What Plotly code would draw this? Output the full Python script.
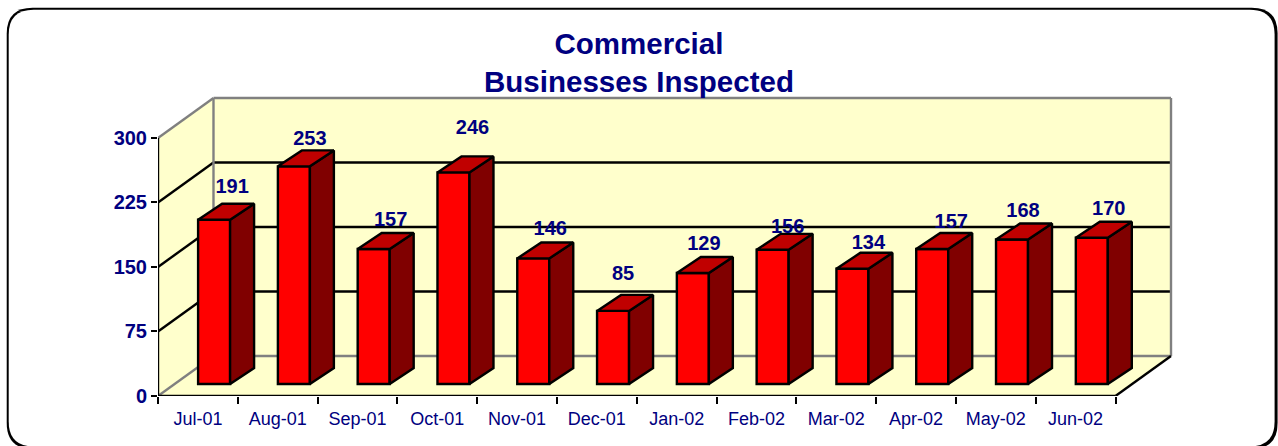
import plotly.graph_objects as go

# ---- data ----
months = ["Jul-01", "Aug-01", "Sep-01", "Oct-01", "Nov-01", "Dec-01",
          "Jan-02", "Feb-02", "Mar-02", "Apr-02", "May-02", "Jun-02"]
inspected = [191, 253, 157, 246, 146, 85, 129, 156, 134, 157, 168, 170]
y_ticks = [0, 75, 150, 225, 300]
title_lines = ["Commercial", "Businesses Inspected"]

# ---- label nudges (px), as placed in the original ----
label_dx = [18, 16, 17, 19, 17, 10, 11, 15, 16, 19, 11, 17]
label_dy = [15.5, 10.5, 12, 27.5, 12, 20, 12, 5.5, 9, 10.5, 11.5, 11.5]

# ---- geometry of the pseudo 3-D box ----
W, H = 1278, 446
X0, Y0 = 158.3, 396.0       # pixel position of the front axes corner
PX_X, PX_Y = 79.8, 258.5 / 300
DEPTH_PX = (55.5, 40.0)     # wall depth
BAR_PX = (32.0, 24.0, 16.0) # bar front width, side dx, side dy
BAR_SHIFT = (16.2, 12.0)    # bar offset into the box
PAD_R, PAD_T = 10, 10
LINE_W = 2.4

def ux(px):
    return px / PX_X

def uy(px):
    return px / PX_Y

n = len(months)
depth_x, depth_y = ux(DEPTH_PX[0]), uy(DEPTH_PX[1])
x_lo, x_hi = -0.5, n - 0.5
y_top = max(y_ticks)
right_px = X0 + n * PX_X + DEPTH_PX[0] + PAD_R
top_px = Y0 - PX_Y * y_top - DEPTH_PX[1] - PAD_T
FILL = "#FFFFCC"
GRAY = "#808080"
NAVY = "#000080"
FONT = "Liberation Sans, Arial, sans-serif"

def paper(px, py):
    return ((px - X0) / (right_px - X0), (Y0 - py) / (Y0 - top_px))

def rrect(l, t, r, b, rad):
    pts = [(l + rad, t), (r - rad, t), (r, t), (r, t + rad), (r, b - rad), (r, b),
           (r - rad, b), (l + rad, b), (l, b), (l, b - rad), (l, t + rad), (l, t), (l + rad, t)]
    p = [paper(*q) for q in pts]
    f = lambda q: f"{q[0]:.5f},{q[1]:.5f}"
    return (f"M{f(p[0])} L{f(p[1])} Q{f(p[2])} {f(p[3])} L{f(p[4])} Q{f(p[5])} {f(p[6])} "
            f"L{f(p[7])} Q{f(p[8])} {f(p[9])} L{f(p[10])} Q{f(p[11])} {f(p[12])} Z")

def poly(pts):
    return "M" + " L".join(f"{a:.4f},{b:.4f}" for a, b in pts) + " Z"

shapes = [
    dict(type="path", xref="paper", yref="paper", path=rrect(7, 7, 1278, 449, 26),
         fillcolor="black", line_width=0, layer="below"),
    dict(type="path", xref="paper", yref="paper", path=rrect(9, 9, 1275, 446.5, 25),
         fillcolor="white", line_width=0, layer="below"),
    # back wall, left wall, floor
    dict(type="path", path=poly([(x_lo + depth_x, depth_y), (x_hi + depth_x, depth_y),
                                  (x_hi + depth_x, y_top + depth_y), (x_lo + depth_x, y_top + depth_y)]),
         fillcolor=FILL, line_width=0, layer="below"),
    dict(type="path", path=poly([(x_lo, 0), (x_lo + depth_x, depth_y),
                                 (x_lo + depth_x, y_top + depth_y), (x_lo, y_top)]),
         fillcolor=FILL, line_width=0, layer="below"),
    dict(type="path", path=poly([(x_lo, 0), (x_hi, 0), (x_hi + depth_x, depth_y), (x_lo + depth_x, depth_y)]),
         fillcolor=FILL, line_width=0, layer="below"),
]

def seg(x1, y1, x2, y2, color):
    shapes.append(dict(type="line", x0=x1, y0=y1, x1=x2, y1=y2, layer="below",
                       line=dict(color=color, width=LINE_W)))

for t in y_ticks:
    c = GRAY if t in (y_ticks[0], y_ticks[-1]) else "black"
    seg(x_lo + depth_x, t + depth_y, x_hi + depth_x, t + depth_y, c)
    seg(x_lo, t, x_lo + depth_x, t + depth_y, c)
seg(x_lo + depth_x, depth_y, x_lo + depth_x, y_top + depth_y, GRAY)
seg(x_hi + depth_x, depth_y, x_hi + depth_x, y_top + depth_y, GRAY)
seg(x_hi, 0, x_hi + depth_x, depth_y, "black")

fig = go.Figure()

# front faces
base = uy(BAR_SHIFT[1])
bar_x = [i + ux(BAR_SHIFT[0]) for i in range(n)]
half = ux(BAR_PX[0]) / 2
sx, sy = ux(BAR_PX[1]), uy(BAR_PX[2])
fig.add_trace(go.Bar(x=bar_x, y=inspected, base=base, width=2 * half,
                     marker=dict(color="#FF0000", line=dict(color="black", width=LINE_W)),
                     showlegend=False, hoverinfo="skip"))

# side and top faces, derived from the values
side_x, side_y, top_x, top_y = [], [], [], []
for c, v in zip(bar_x, inspected):
    l, r, b, t = c - half, c + half, base, base + v
    side_x += [r, r + sx, r + sx, r, r, None]
    side_y += [b, b + sy, t + sy, t, b, None]
    top_x += [l, r, r + sx, l + sx, l, None]
    top_y += [t, t, t + sy, t + sy, t, None]
fig.add_trace(go.Scatter(x=side_x, y=side_y, mode="lines", fill="toself", fillcolor="#800000",
                         line=dict(color="black", width=LINE_W), showlegend=False, hoverinfo="skip"))
fig.add_trace(go.Scatter(x=top_x, y=top_y, mode="lines", fill="toself", fillcolor="#C00000",
                         line=dict(color="black", width=LINE_W), showlegend=False, hoverinfo="skip"))

# front axis lines
fig.add_trace(go.Scatter(x=[x_lo, x_lo, None, x_lo, x_hi], y=[0, y_top, None, 0, 0], mode="lines",
                         line=dict(color="black", width=LINE_W), cliponaxis=False,
                         showlegend=False, hoverinfo="skip"))

# value labels
fig.add_trace(go.Scatter(
    x=[c + ux(d) for c, d in zip(bar_x, label_dx)],
    y=[base + v + sy + uy(d) for v, d in zip(inspected, label_dy)],
    mode="text", text=[str(v) for v in inspected], textposition="middle center",
    textfont=dict(family=FONT, size=20, color=NAVY, weight="bold"),
    cliponaxis=False, showlegend=False, hoverinfo="skip"))

fig.update_layout(
    width=W, height=H, paper_bgcolor="white", plot_bgcolor="rgba(0,0,0,0)",
    margin=dict(l=X0, r=W - right_px, t=top_px, b=H - Y0, autoexpand=False),
    shapes=shapes, showlegend=False,
    title=dict(text="<br>".join(f"<b>{s}</b>" for s in title_lines),
               font=dict(family=FONT, size=29.5, color=NAVY),
               x=639 / W, xanchor="center", y=0.879, yanchor="top", yref="container", xref="container"),
)
fig.update_xaxes(range=[x_lo, x_lo + (right_px - X0) / PX_X], tickvals=list(range(n)), ticktext=months,
                 ticks="", showgrid=False, zeroline=False, showline=False,
                 tickfont=dict(family=FONT, size=18, color=NAVY), tickangle=0, ticklabelstandoff=10,
                 minor=dict(tickvals=[i - 0.5 for i in range(n + 1)], ticks="outside", ticklen=7,
                            tickwidth=2, tickcolor="black", showgrid=False))
fig.update_yaxes(range=[0, (Y0 - top_px) / PX_Y], tickvals=y_ticks, ticks="outside", ticklen=6,
                 tickwidth=2, tickcolor="black", showgrid=False, zeroline=False, showline=False,
                 tickfont=dict(family=FONT, size=20, color=NAVY, weight="bold"))

fig.write_html("out.html", config=dict(displayModeBar=False),
               post_script="document.body.style.margin='0';document.body.style.overflow='hidden';")
